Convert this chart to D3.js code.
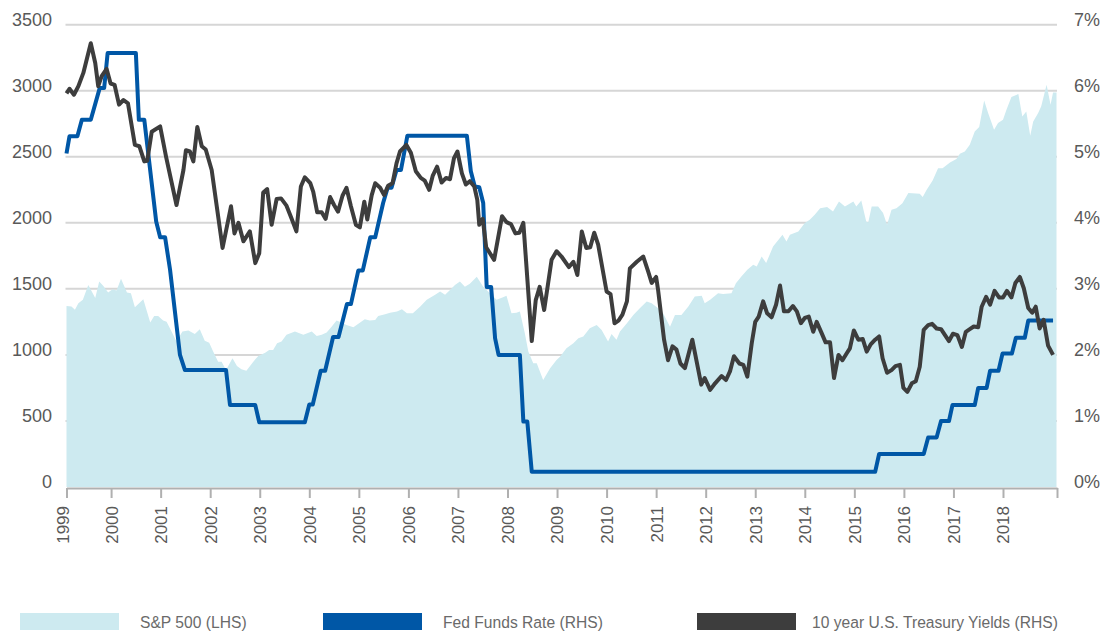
<!DOCTYPE html>
<html>
<head>
<meta charset="utf-8">
<script src="https://cdn.jsdelivr.net/npm/d3@7"></script>
<style>
  body { margin: 0; background: #fff; }
  svg { display: block; font-family: "Liberation Sans", Arial, sans-serif; }
</style>
</head>
<body>
<svg id="chart" width="1102" height="635"></svg>
<script>
// S&P 500 index level (LHS), [decimal year, level]
const sp500 = [[1999.10,1371],[1999.20,1366],[1999.27,1341],[1999.34,1392],[1999.43,1417],[1999.54,1530],[1999.68,1430],[1999.76,1555],[1999.84,1523],[1999.94,1472],[2000.03,1498],[2000.11,1487],[2000.20,1576],[2000.32,1472],[2000.40,1467],[2000.48,1361],[2000.65,1422],[2000.79,1245],[2000.87,1295],[2000.95,1295],[2001.05,1260],[2001.12,1252],[2001.22,1177],[2001.32,1101],[2001.44,1177],[2001.56,1184],[2001.69,1159],[2001.79,1195],[2001.89,1108],[2001.98,1093],[2002.06,1025],[2002.16,949],[2002.23,949],[2002.32,886],[2002.45,975],[2002.54,917],[2002.63,892],[2002.73,881],[2002.87,949],[2002.97,992],[2003.11,1017],[2003.19,1038],[2003.27,1038],[2003.35,1089],[2003.44,1101],[2003.54,1152],[2003.71,1177],[2003.88,1152],[2004.05,1177],[2004.15,1144],[2004.25,1152],[2004.35,1169],[2004.45,1214],[2004.55,1260],[2004.65,1245],[2004.75,1227],[2004.89,1210],[2004.99,1235],[2005.12,1270],[2005.22,1260],[2005.33,1265],[2005.39,1295],[2005.53,1308],[2005.63,1320],[2005.77,1328],[2005.87,1346],[2005.97,1316],[2006.09,1316],[2006.24,1366],[2006.37,1417],[2006.54,1455],[2006.64,1480],[2006.74,1455],[2006.84,1492],[2006.94,1530],[2007.04,1555],[2007.14,1517],[2007.24,1538],[2007.38,1591],[2007.51,1517],[2007.78,1417],[2007.91,1437],[2007.98,1447],[2008.08,1316],[2008.18,1320],[2008.25,1328],[2008.35,1164],[2008.42,1025],[2008.52,937],[2008.59,937],[2008.72,811],[2008.86,899],[2008.99,962],[2009.06,987],[2009.19,1051],[2009.33,1089],[2009.43,1127],[2009.53,1139],[2009.66,1202],[2009.80,1227],[2009.90,1189],[2010.03,1101],[2010.10,1159],[2010.20,1114],[2010.27,1177],[2010.41,1240],[2010.54,1303],[2010.67,1354],[2010.81,1404],[2010.91,1392],[2011.04,1354],[2011.14,1316],[2011.28,1214],[2011.38,1303],[2011.51,1303],[2011.65,1366],[2011.78,1442],[2011.92,1447],[2011.98,1392],[2012.09,1417],[2012.25,1467],[2012.35,1462],[2012.52,1467],[2012.61,1543],[2012.72,1593],[2012.84,1644],[2012.96,1682],[2013.03,1669],[2013.13,1745],[2013.22,1695],[2013.36,1820],[2013.55,1909],[2013.63,1858],[2013.70,1909],[2013.87,1934],[2014.00,1998],[2014.10,2023],[2014.20,2061],[2014.31,2111],[2014.45,2119],[2014.57,2086],[2014.69,2161],[2014.81,2124],[2014.98,2161],[2015.04,2124],[2015.14,2169],[2015.24,2010],[2015.28,2002],[2015.35,2124],[2015.48,2124],[2015.58,2074],[2015.66,1985],[2015.75,2099],[2015.85,2111],[2015.97,2149],[2016.09,2225],[2016.32,2220],[2016.38,2195],[2016.46,2250],[2016.58,2321],[2016.69,2414],[2016.78,2414],[2016.93,2457],[2017.06,2483],[2017.13,2523],[2017.23,2540],[2017.33,2591],[2017.43,2692],[2017.52,2725],[2017.62,2927],[2017.70,2831],[2017.82,2705],[2017.90,2755],[2018.00,2780],[2018.07,2856],[2018.17,2952],[2018.31,2975],[2018.39,2805],[2018.47,2843],[2018.55,2659],[2018.61,2767],[2018.71,2831],[2018.77,2881],[2018.88,3046],[2018.96,2894],[2019.01,2987],[2019.08,2987]];

// Fed funds target rate in % (RHS)
const fedFunds = [[1999.10,5.05],[1999.16,5.31],[1999.32,5.31],[1999.41,5.56],[1999.59,5.56],[1999.77,6.04],[1999.86,6.04],[1999.93,6.57],[2000.50,6.57],[2000.56,5.56],[2000.67,5.56],[2000.91,4.02],[2000.99,3.78],[2001.09,3.78],[2001.19,3.29],[2001.39,2.00],[2001.49,1.77],[2002.32,1.77],[2002.40,1.24],[2002.91,1.24],[2002.99,0.98],[2003.91,0.98],[2004.00,1.25],[2004.07,1.25],[2004.23,1.76],[2004.32,1.76],[2004.48,2.27],[2004.59,2.27],[2004.76,2.77],[2004.84,2.77],[2004.99,3.28],[2005.08,3.28],[2005.23,3.78],[2005.33,3.78],[2005.49,4.30],[2005.58,4.53],[2005.66,4.53],[2005.76,4.80],[2005.85,4.80],[2005.98,5.32],[2007.18,5.32],[2007.26,4.78],[2007.34,4.55],[2007.43,4.54],[2007.51,4.30],[2007.58,3.03],[2007.67,3.03],[2007.75,2.25],[2007.82,2.00],[2008.25,2.00],[2008.32,0.99],[2008.40,0.99],[2008.49,0.23],[2015.42,0.23],[2015.50,0.50],[2016.40,0.50],[2016.49,0.75],[2016.66,0.75],[2016.75,1.00],[2016.91,1.00],[2016.98,1.24],[2017.43,1.24],[2017.50,1.50],[2017.67,1.50],[2017.74,1.76],[2017.91,1.76],[2017.99,2.02],[2018.18,2.02],[2018.26,2.26],[2018.44,2.26],[2018.51,2.52],[2019.01,2.52]];

// 10 year U.S. Treasury yield in % (RHS)
const treasury10y = [[1999.10,5.96],[1999.16,6.03],[1999.25,5.94],[1999.34,6.07],[1999.44,6.27],[1999.59,6.72],[1999.68,6.42],[1999.74,6.07],[1999.81,6.22],[1999.91,6.33],[1999.99,6.11],[2000.07,6.09],[2000.16,5.79],[2000.25,5.86],[2000.34,5.81],[2000.48,5.18],[2000.57,5.16],[2000.67,4.93],[2000.73,4.94],[2000.82,5.38],[2000.99,5.46],[2001.11,5.00],[2001.32,4.27],[2001.46,4.80],[2001.51,5.10],[2001.59,5.08],[2001.66,4.93],[2001.74,5.45],[2001.83,5.16],[2001.91,5.11],[2002.03,4.80],[2002.25,3.62],[2002.42,4.25],[2002.49,3.84],[2002.57,4.00],[2002.67,3.72],[2002.80,3.87],[2002.91,3.39],[2002.99,3.54],[2003.07,4.46],[2003.15,4.51],[2003.24,3.97],[2003.34,4.36],[2003.43,4.37],[2003.54,4.26],[2003.64,4.07],[2003.74,3.87],[2003.83,4.55],[2003.91,4.69],[2004.02,4.60],[2004.08,4.47],[2004.16,4.16],[2004.25,4.16],[2004.33,4.06],[2004.42,4.39],[2004.50,4.27],[2004.58,4.17],[2004.67,4.41],[2004.75,4.53],[2004.84,4.25],[2004.94,3.97],[2005.02,3.93],[2005.11,4.32],[2005.17,4.05],[2005.26,4.42],[2005.33,4.60],[2005.43,4.53],[2005.51,4.42],[2005.59,4.56],[2005.68,4.60],[2005.76,4.90],[2005.83,5.08],[2005.96,5.18],[2006.05,5.06],[2006.15,4.78],[2006.25,4.68],[2006.33,4.64],[2006.42,4.50],[2006.49,4.71],[2006.58,4.85],[2006.67,4.61],[2006.76,4.68],[2006.84,4.66],[2006.92,4.98],[2006.99,5.08],[2007.08,4.75],[2007.16,4.58],[2007.24,4.63],[2007.33,4.55],[2007.39,4.35],[2007.43,3.97],[2007.50,4.06],[2007.57,3.63],[2007.73,3.44],[2007.89,4.10],[2007.98,4.01],[2008.07,3.98],[2008.16,3.84],[2008.24,3.85],[2008.32,4.00],[2008.49,2.21],[2008.57,2.83],[2008.65,3.03],[2008.74,2.68],[2008.89,3.44],[2008.99,3.57],[2009.09,3.49],[2009.24,3.33],[2009.33,3.41],[2009.41,3.21],[2009.50,3.87],[2009.59,3.62],[2009.67,3.63],[2009.75,3.85],[2009.83,3.67],[2010.00,2.96],[2010.08,2.92],[2010.16,2.48],[2010.24,2.52],[2010.32,2.61],[2010.41,2.81],[2010.47,3.31],[2010.61,3.41],[2010.74,3.49],[2010.84,3.26],[2010.91,3.09],[2011.00,3.18],[2011.04,2.98],[2011.16,2.23],[2011.24,1.92],[2011.33,2.13],[2011.41,2.08],[2011.49,1.87],[2011.58,1.80],[2011.73,2.23],[2011.91,1.55],[2011.98,1.65],[2012.09,1.47],[2012.19,1.57],[2012.32,1.68],[2012.41,1.62],[2012.49,1.75],[2012.57,1.98],[2012.68,1.87],[2012.76,1.85],[2012.84,1.67],[2012.93,2.18],[2013.00,2.50],[2013.07,2.58],[2013.16,2.81],[2013.24,2.63],[2013.33,2.57],[2013.42,2.76],[2013.50,3.05],[2013.58,2.66],[2013.67,2.66],[2013.76,2.74],[2013.84,2.66],[2013.92,2.48],[2014.00,2.56],[2014.08,2.58],[2014.17,2.35],[2014.24,2.50],[2014.34,2.33],[2014.42,2.19],[2014.51,2.19],[2014.59,1.65],[2014.68,2.00],[2014.76,1.92],[2014.85,2.03],[2014.91,2.10],[2014.99,2.37],[2015.08,2.23],[2015.17,2.24],[2015.25,2.05],[2015.33,2.16],[2015.42,2.23],[2015.50,2.28],[2015.57,1.95],[2015.66,1.73],[2015.75,1.77],[2015.83,1.83],[2015.92,1.85],[2015.99,1.50],[2016.07,1.44],[2016.16,1.57],[2016.24,1.60],[2016.32,1.82],[2016.40,2.38],[2016.49,2.45],[2016.57,2.47],[2016.66,2.40],[2016.75,2.39],[2016.83,2.30],[2016.91,2.21],[2016.99,2.32],[2017.08,2.30],[2017.17,2.12],[2017.25,2.35],[2017.33,2.39],[2017.41,2.43],[2017.50,2.42],[2017.57,2.73],[2017.66,2.88],[2017.74,2.76],[2017.83,2.97],[2017.92,2.87],[2018.00,2.87],[2018.08,2.97],[2018.17,2.87],[2018.25,3.09],[2018.34,3.18],[2018.42,3.01],[2018.51,2.71],[2018.59,2.64],[2018.66,2.73],[2018.74,2.40],[2018.82,2.53],[2018.91,2.14],[2019.01,2.00]];

const yearTicks = d3.range(1999, 2019);
const leftTicks = [0, 500, 1000, 1500, 2000, 2500, 3000, 3500];
const rightTicks = [0, 1, 2, 3, 4, 5, 6, 7];
const legendItems = ["S&P 500 (LHS)", "Fed Funds Rate (RHS)", "10 year U.S. Treasury Yields (RHS)"];

const startYear = 1999.1, endYear = 2019.09;
const colors = { sp: "#cdeaf0", fed: "#0057a6", ust: "#3d3d3d", grid: "#d6d6d6", axis: "#b0b0b0", text: "#595959" };

const svg = d3.select("#chart");
const plotLeft = 66.5, plotRight = 1057, plotTop = 24.7, plotBottom = 487;

const x = d3.scaleLinear().domain([startYear, endYear]).range([plotLeft, plotRight]);
const yL = d3.scaleLinear().domain([0, 3500]).range([plotBottom, plotTop]);
const yR = d3.scaleLinear().domain([0, 7]).range([plotBottom, plotTop]);

// gridlines
svg.append("g")
  .selectAll("line")
  .data(leftTicks.slice(1))
  .join("line")
  .attr("x1", plotLeft - 1).attr("x2", plotRight)
  .attr("y1", d => yL(d)).attr("y2", d => yL(d))
  .attr("stroke", colors.grid).attr("stroke-width", 2);

// S&P area
svg.append("path")
  .datum(sp500)
  .attr("fill", colors.sp)
  .attr("d", d3.area().x(d => x(d[0])).y0(yL(0)).y1(d => yL(d[1])));

// x axis
const tickVals = yearTicks.map(y => y === 1999 ? startYear : y).concat([endYear]);
const xAxis = svg.append("g")
  .attr("transform", `translate(0,${plotBottom + 1})`)
  .call(d3.axisBottom(x)
    .tickValues(tickVals)
    .tickSize(10)
    .tickSizeOuter(0)
    .tickFormat(d => d === endYear ? "" : String(Math.floor(d))));
xAxis.select(".domain").attr("stroke", colors.axis).attr("stroke-width", 2);
xAxis.selectAll(".tick line").attr("stroke", colors.axis).attr("stroke-width", 2);
xAxis.selectAll(".tick text")
  .attr("fill", colors.text)
  .attr("font-size", 17)
  .attr("x", -18).attr("y", d => d === startYear ? -4 : 0).attr("dy", "0.35em")
  .attr("transform", "rotate(-90)")
  .style("text-anchor", "end");

// left axis
const yAxisL = svg.append("g")
  .attr("transform", "translate(52,0)")
  .call(d3.axisLeft(yL).tickValues(leftTicks).tickSize(0).tickPadding(0).tickFormat(d3.format("d")));
yAxisL.select(".domain").remove();
yAxisL.selectAll("text").attr("fill", colors.text).attr("font-size", 18).attr("dy", "0.05em");

// right axis
const yAxisR = svg.append("g")
  .attr("transform", "translate(1100,0)")
  .call(d3.axisLeft(yR).tickValues(rightTicks).tickSize(0).tickPadding(0).tickFormat(d => d + "%"));
yAxisR.select(".domain").remove();
yAxisR.selectAll("text").attr("fill", colors.text).attr("font-size", 18).attr("dy", "0.05em");

// lines
const line = d3.line().x(d => x(d[0])).y(d => yR(d[1]));
svg.append("path").datum(fedFunds)
  .attr("fill", "none").attr("stroke", colors.fed).attr("stroke-width", 4)
  .attr("stroke-linejoin", "round").attr("d", line);
svg.append("path").datum(treasury10y)
  .attr("fill", "none").attr("stroke", colors.ust).attr("stroke-width", 4)
  .attr("stroke-linejoin", "round").attr("d", line);

// legend
const legendX = [20, 323, 697];
const legendColors = [colors.sp, colors.fed, colors.ust];
const legend = svg.append("g").selectAll("g")
  .data(legendItems)
  .join("g")
  .attr("transform", (d, i) => `translate(${legendX[i]},613)`);
legend.append("rect").attr("width", 99).attr("height", 17).attr("fill", (d, i) => legendColors[i]);
legend.append("text")
  .attr("transform", (d, i) => `translate(${i === 2 ? 115 : 120},15) scale(0.92,1)`)
  .attr("font-size", 17).attr("fill", "#6a6a6a")
  .text(d => d);
</script>
</body>
</html>
